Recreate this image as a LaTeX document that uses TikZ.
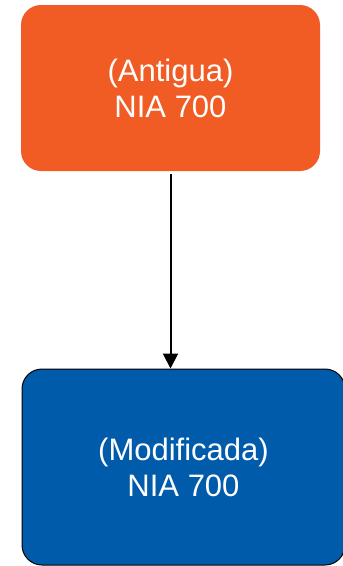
\documentclass[tikz,border=0pt]{standalone}
\usepackage{fontspec}
\setmainfont{Liberation Sans}
\usetikzlibrary{arrows.meta}
\definecolor{boxorange}{RGB}{241,91,36}
\definecolor{boxblue}{RGB}{0,91,170}
\begin{document}
\begin{tikzpicture}[x=1pt,y=-1pt,
  box/.style={rounded corners=20pt, inner sep=0pt, text=white,
    font=\fontsize{31}{36}\selectfont, align=center},
  conn/.style={line width=2pt, shorten <=3pt, -{Triangle[length=15pt,width=15pt]}}]
\useasboundingbox (0,0) rectangle (343,566);
\node[box, fill=boxorange, minimum width=299pt, minimum height=166pt] (old) at (170.5,88) {(Antigua)\\NIA 700};
\node[box, fill=boxblue, draw=black, line width=1pt, minimum width=323pt, minimum height=196pt] (new) at (183.5,467) {(Modificada)\\NIA 700};
\draw[conn] (old.south) -- (old.south |- new.north);
\end{tikzpicture}
\end{document}
